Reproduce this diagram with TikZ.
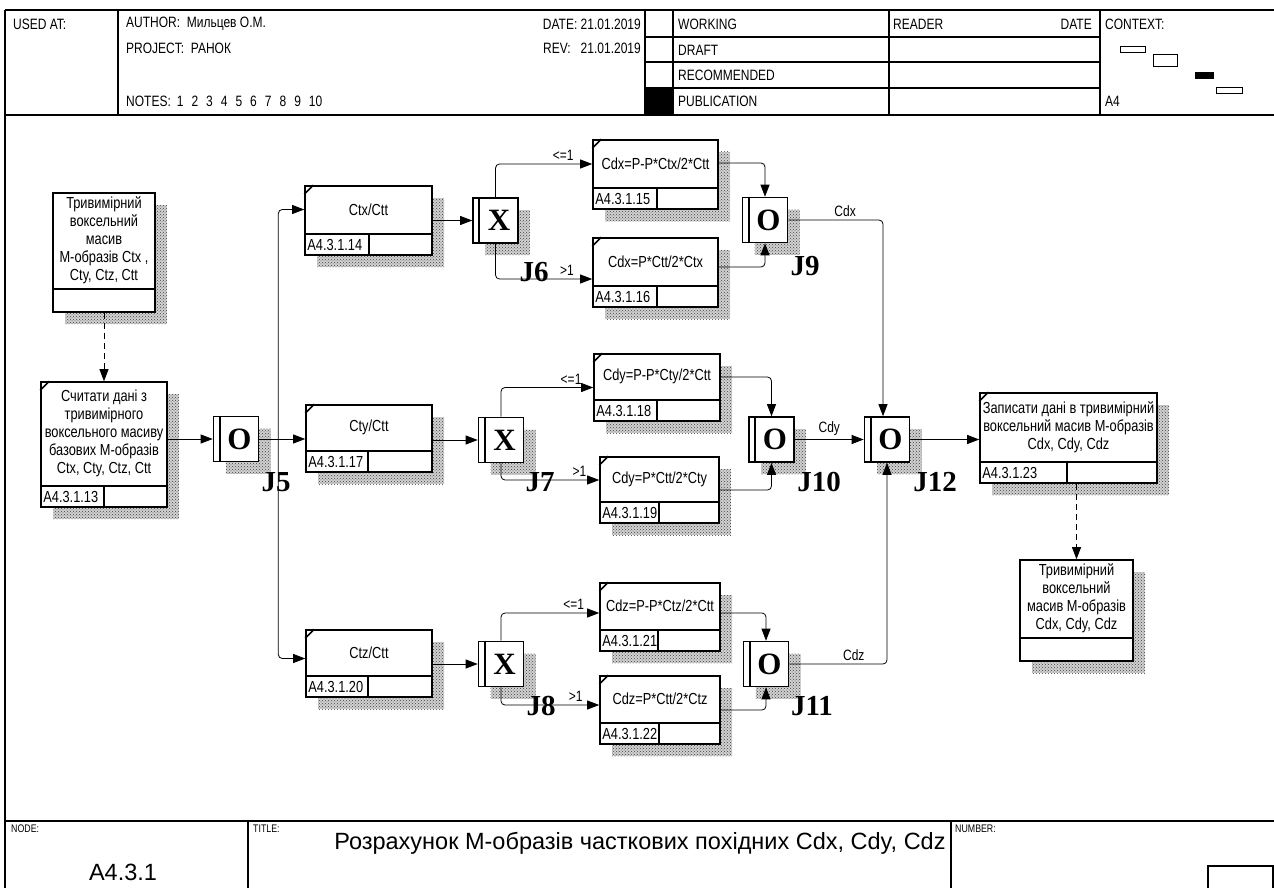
\documentclass[tikz,border=0pt]{standalone}
\usepackage{fontspec}
\setmainfont{Liberation Sans}[FakeStretch=0.8]
\newfontfamily\titlefont{Liberation Sans}
\newfontfamily\jfont{Liberation Serif}
\usepackage{tikz}
\usetikzlibrary{arrows.meta,patterns}
\tikzstyle{uobbox}=[rectangle, draw=black, line width=1.6pt, fill=white, inner sep=0pt]
\tikzstyle{shadow}=[preaction={fill=black!18}, pattern=crosshatch dots, pattern color=black!75]
\tikzstyle{boxtext}=[font=\fontsize{16}{18}\selectfont, align=center, inner sep=0pt]
\tikzstyle{reftext}=[anchor=west, font=\fontsize{16}{18}\selectfont, inner sep=0pt]
\tikzstyle{junction}=[rectangle, draw=black, line width=1.6pt, fill=white, minimum width=45, minimum height=45, inner sep=0pt]
\tikzstyle{jletter}=[font=\jfont\bfseries\fontsize{31}{31}\selectfont, inner sep=0pt]
\tikzstyle{jlabel}=[font=\jfont\bfseries\fontsize{29}{29}\selectfont, inner sep=0pt]
\tikzstyle{flow}=[->, line width=0.8pt, rounded corners=4pt]
\tikzstyle{branch}=[font=\fontsize{15}{16}\selectfont, above=3pt, inner sep=0pt]
\tikzstyle{hdr}=[anchor=west, font=\fontsize{15}{16}\selectfont, inner sep=0pt]
\tikzstyle{small}=[anchor=north west, font=\fontsize{11}{12}\selectfont, inner sep=0pt]
\tikzstyle{frame}=[line width=1.2pt]
% unit of behaviour: name, x, y, width, height, ref width, text, ref
\newcommand{\uob}[8]{%
  \fill[shadow] (#2-#4/2+12, #3-#5/2+12) rectangle (#2+#4/2+12, #3+#5/2+12);
  \node[uobbox, minimum width=#4, minimum height=#5] at (#2, #3) (#1) {};
  \draw[line width=1.6pt] ([yshift=22pt]#1.south west) -- ([yshift=22pt]#1.south east);
  \draw[line width=1.6pt] ([xshift=#6]#1.south west) -- ++(0,22pt);
  \draw[line width=1.6pt] ([yshift=-9pt]#1.north west) -- ([xshift=9pt]#1.north west);
  \node[boxtext] at (#2, #3-11) (#1t) {#7};
  \node[reftext] at ([xshift=3pt, yshift=11pt]#1.south west) (#1r) {#8};
}
% referent object: name, x, y, width, height, text
\newcommand{\refobj}[6]{%
  \fill[shadow] (#2-#4/2+12, #3-#5/2+12) rectangle (#2+#4/2+12, #3+#5/2+12);
  \node[uobbox, minimum width=#4, minimum height=#5] at (#2, #3) (#1) {};
  \draw[line width=1.6pt] ([yshift=24pt]#1.south west) -- ([yshift=24pt]#1.south east);
  \node[boxtext] at (#2, #3-12) (#1t) {#6};
}
% junction: name, x, y, letter
\newcommand{\junct}[4]{%
  \fill[shadow] (#2-10.5, #3-10.5) rectangle (#2+34.5, #3+34.5);
  \node[junction] at (#2, #3) (#1) {};
  \draw[line width=1.6pt] ([xshift=7pt]#1.north west) -- ([xshift=7pt]#1.south west);
  \node[jletter] at (#2+3.5, #3) (#1l) {#4};
}

\begin{document}
\begin{tikzpicture}[x=1pt, y=-1pt, >={Triangle[length=12pt,width=9pt]}]
	\useasboundingbox (0,0) rectangle (1274,888);
	
	% frame
	\draw[frame] (5,10) -- (1274,10);
	\draw[frame] (5,115) -- (1274,115);
	\draw[frame] (5,10) -- (5,888);
	\foreach \x in {118,645,673,889,1100} \draw[frame] (\x,10) -- (\x,115);
	\foreach \y in {37,62,88} \draw[frame] (645,\y) -- (1100,\y);
	\fill (645,88) rectangle (673,115);
	\draw[frame] (5,821) -- (1274,821);
	\draw[frame] (248,821) -- (248,888);
	\draw[frame] (951,821) -- (951,888);
	\draw[frame] (1208,888) -- (1208,866) -- (1273,866) -- (1273,888);
	\draw (1120,46) rectangle (1145,52);
	\draw (1153,54) rectangle (1177,66);
	\fill (1195,72) rectangle (1214,79);
	\draw (1216,87) rectangle (1242,93);
	
	\node[hdr] (usedat) at (13,24) {USED AT:};
	\node[hdr] (author) at (126,24) {AUTHOR:\ \ Мильцев О.М.};
	\node[hdr] (project) at (126,48) {PROJECT:\ \ РАНОК};
	\node[hdr] (notes) at (126,101) {NOTES:\hspace{6pt}1\hspace{8pt}2\hspace{8pt}3\hspace{8pt}4\hspace{8pt}5\hspace{8pt}6\hspace{8pt}7\hspace{8pt}8\hspace{8pt}9\hspace{8pt}10};
	\node[hdr, anchor=east] (date) at (641,24) {DATE: 21.01.2019};
	\node[hdr, anchor=east] (rev) at (641,48) {REV:\ \ \ 21.01.2019};
	\node[hdr] (working) at (678,24) {WORKING};
	\node[hdr] (draft) at (678,50) {DRAFT};
	\node[hdr] (recom) at (678,75) {RECOMMENDED};
	\node[hdr] (public) at (678,101) {PUBLICATION};
	\node[hdr] (reader) at (893,24) {READER};
	\node[hdr, anchor=east] (rdate) at (1092,24) {DATE};
	\node[hdr] (context) at (1105,24) {CONTEXT:};
	\node[hdr] (ctxa4) at (1105,101) {A4};
	
	\node[small] (nodelbl) at (11,825) {NODE:};
	\node[small] (titlelbl) at (253,825) {TITLE:};
	\node[small] (numlbl) at (955,825) {NUMBER:};
	\node[font=\titlefont\fontsize{23.5}{25}\selectfont] (title) at (640,843) {Розрахунок М-образів часткових похідних Cdx, Cdy, Cdz};
	\node[font=\titlefont\fontsize{23.5}{25}\selectfont] (nodenum) at (123,872) {A4.3.1};
	
	% boxes
	\refobj{obj1}{104}{252.5}{102}{119}{Тривимірний\\воксельний\\масив\\М-образів Ctx ,\\Cty, Ctz, Ctt}
	\uob{a13}{104}{444.5}{126}{125}{64}{Считати дані з\\тривимірного\\воксельного масиву\\базових М-образів\\Ctx, Cty, Ctz, Ctt}{A4.3.1.13}
	\uob{a14}{368.5}{220.5}{127}{69}{65}{Ctx/Ctt}{A4.3.1.14}
	\uob{a17}{369}{438.5}{126}{67}{63}{Cty/Ctt}{A4.3.1.17}
	\uob{a20}{369}{663.5}{126}{67}{63}{Ctz/Ctt}{A4.3.1.20}
	\uob{a15}{655.5}{174.5}{125}{69}{65}{Cdx=P-P*Ctx/2*Ctt}{A4.3.1.15}
	\uob{a16}{655.5}{272.5}{125}{69}{65}{Cdx=P*Ctt/2*Ctx}{A4.3.1.16}
	\uob{a18}{657}{387.5}{126}{67}{64}{Cdy=P-P*Cty/2*Ctt}{A4.3.1.18}
	\uob{a19}{659.5}{490}{119}{66}{60}{Cdy=P*Ctt/2*Cty}{A4.3.1.19}
	\uob{a21}{660}{617}{120}{68}{59}{Cdz=P-P*Ctz/2*Ctt}{A4.3.1.21}
	\uob{a22}{660}{710}{120}{68}{60}{Cdz=P*Ctt/2*Ctz}{A4.3.1.22}
	\uob{a23}{1068.5}{438}{177}{90}{88}{Записати дані в тривимірний\\воксельний масив М-образів\\Cdx, Cdy, Cdz}{A4.3.1.23}
	\refobj{obj2}{1076.5}{610.5}{113}{101}{Тривимірний\\воксельний\\масив М-образів\\Cdx, Cdy, Cdz}
	
	% junctions
	\junct{j5}{236}{439}{O}
	\junct{j6}{495.5}{220.5}{X}
	\junct{j7}{501}{440}{X}
	\junct{j8}{501}{664}{X}
	\junct{j9}{765}{220}{O}
	\junct{j10}{771.5}{439.5}{O}
	\junct{j11}{766}{664}{O}
	\junct{j12}{887}{439.5}{O}
	\node[jlabel] (j5n) at (276,482) {J5};
	\node[jlabel] (j6n) at (534,272) {J6};
	\node[jlabel] (j7n) at (540,482) {J7};
	\node[jlabel] (j8n) at (541,706) {J8};
	\node[jlabel] (j9n) at (805,266) {J9};
	\node[jlabel] (j10n) at (819,482) {J10};
	\node[jlabel] (j11n) at (812,706) {J11};
	\node[jlabel] (j12n) at (935,482) {J12};
	
	% links
	\draw[flow, dash pattern=on 6pt off 4pt] (obj1.south) -- (a13.north);
	\draw[flow] (a13.east |- j5) -- (j5.west);
	\draw[flow] (j5.east) -- (a17.west |- j5);
	\draw[flow] ([xshift=19pt]j5.east) |- (a14.west |- a14t);
	\draw[flow] ([xshift=19pt]j5.east) |- ([yshift=5pt]a20.west);
	
	\draw[flow] (a14.east |- j6) -- (j6.west);
	\draw[flow] (j6.north) |- ([yshift=10.5pt]a15.west) node[branch, pos=0.85] {<=1};
	\draw[flow] (j6.south) |- ([yshift=-6.5pt]a16.west) node[branch, pos=0.87] {>1};
	\draw[flow] ([yshift=11.5pt]a15.east) -| (j9.north);
	\draw[flow] ([yshift=5.5pt]a16.east) -| (j9.south);
	\draw[flow] (j9.east) -| ([xshift=-4pt]j12.north) node[branch, pos=0.3] {Cdx};
	
	\draw[flow] (a17.east |- j7) -- (j7.west);
	\draw[flow] (j7.north) |- (a18.west) node[branch, pos=0.88] {<=1};
	\draw[flow] (j7.south) |- ([yshift=10pt]a19.west) node[branch, pos=0.9] {>1};
	\draw[flow] ([yshift=10.5pt]a18.east) -| (j10.north);
	\draw[flow] (a19.east) -| (j10.south);
	\draw[flow] (j10.east) -- (j12.west) node[branch, midway] {Cdy};
	
	\draw[flow] (a20.east |- j8) -- (j8.west);
	\draw[flow] (j8.north) |- ([yshift=4pt]a21.west) node[branch, pos=0.87] {<=1};
	\draw[flow] (j8.south) |- ([yshift=5pt]a22.west) node[branch, pos=0.88] {>1};
	\draw[flow] ([yshift=4pt]a21.east) -| (j11.north);
	\draw[flow] (a22.east) -| (j11.south);
	\draw[flow] (j11.east) -| (j12.south) node[branch, pos=0.33] {Cdz};
	
	\draw[flow] (j12.east) -- (a23.west |- j12);
	\draw[flow, dash pattern=on 6pt off 4pt] (obj2.north |- a23.south) -- (obj2.north);
	
\end{tikzpicture}
\end{document}
